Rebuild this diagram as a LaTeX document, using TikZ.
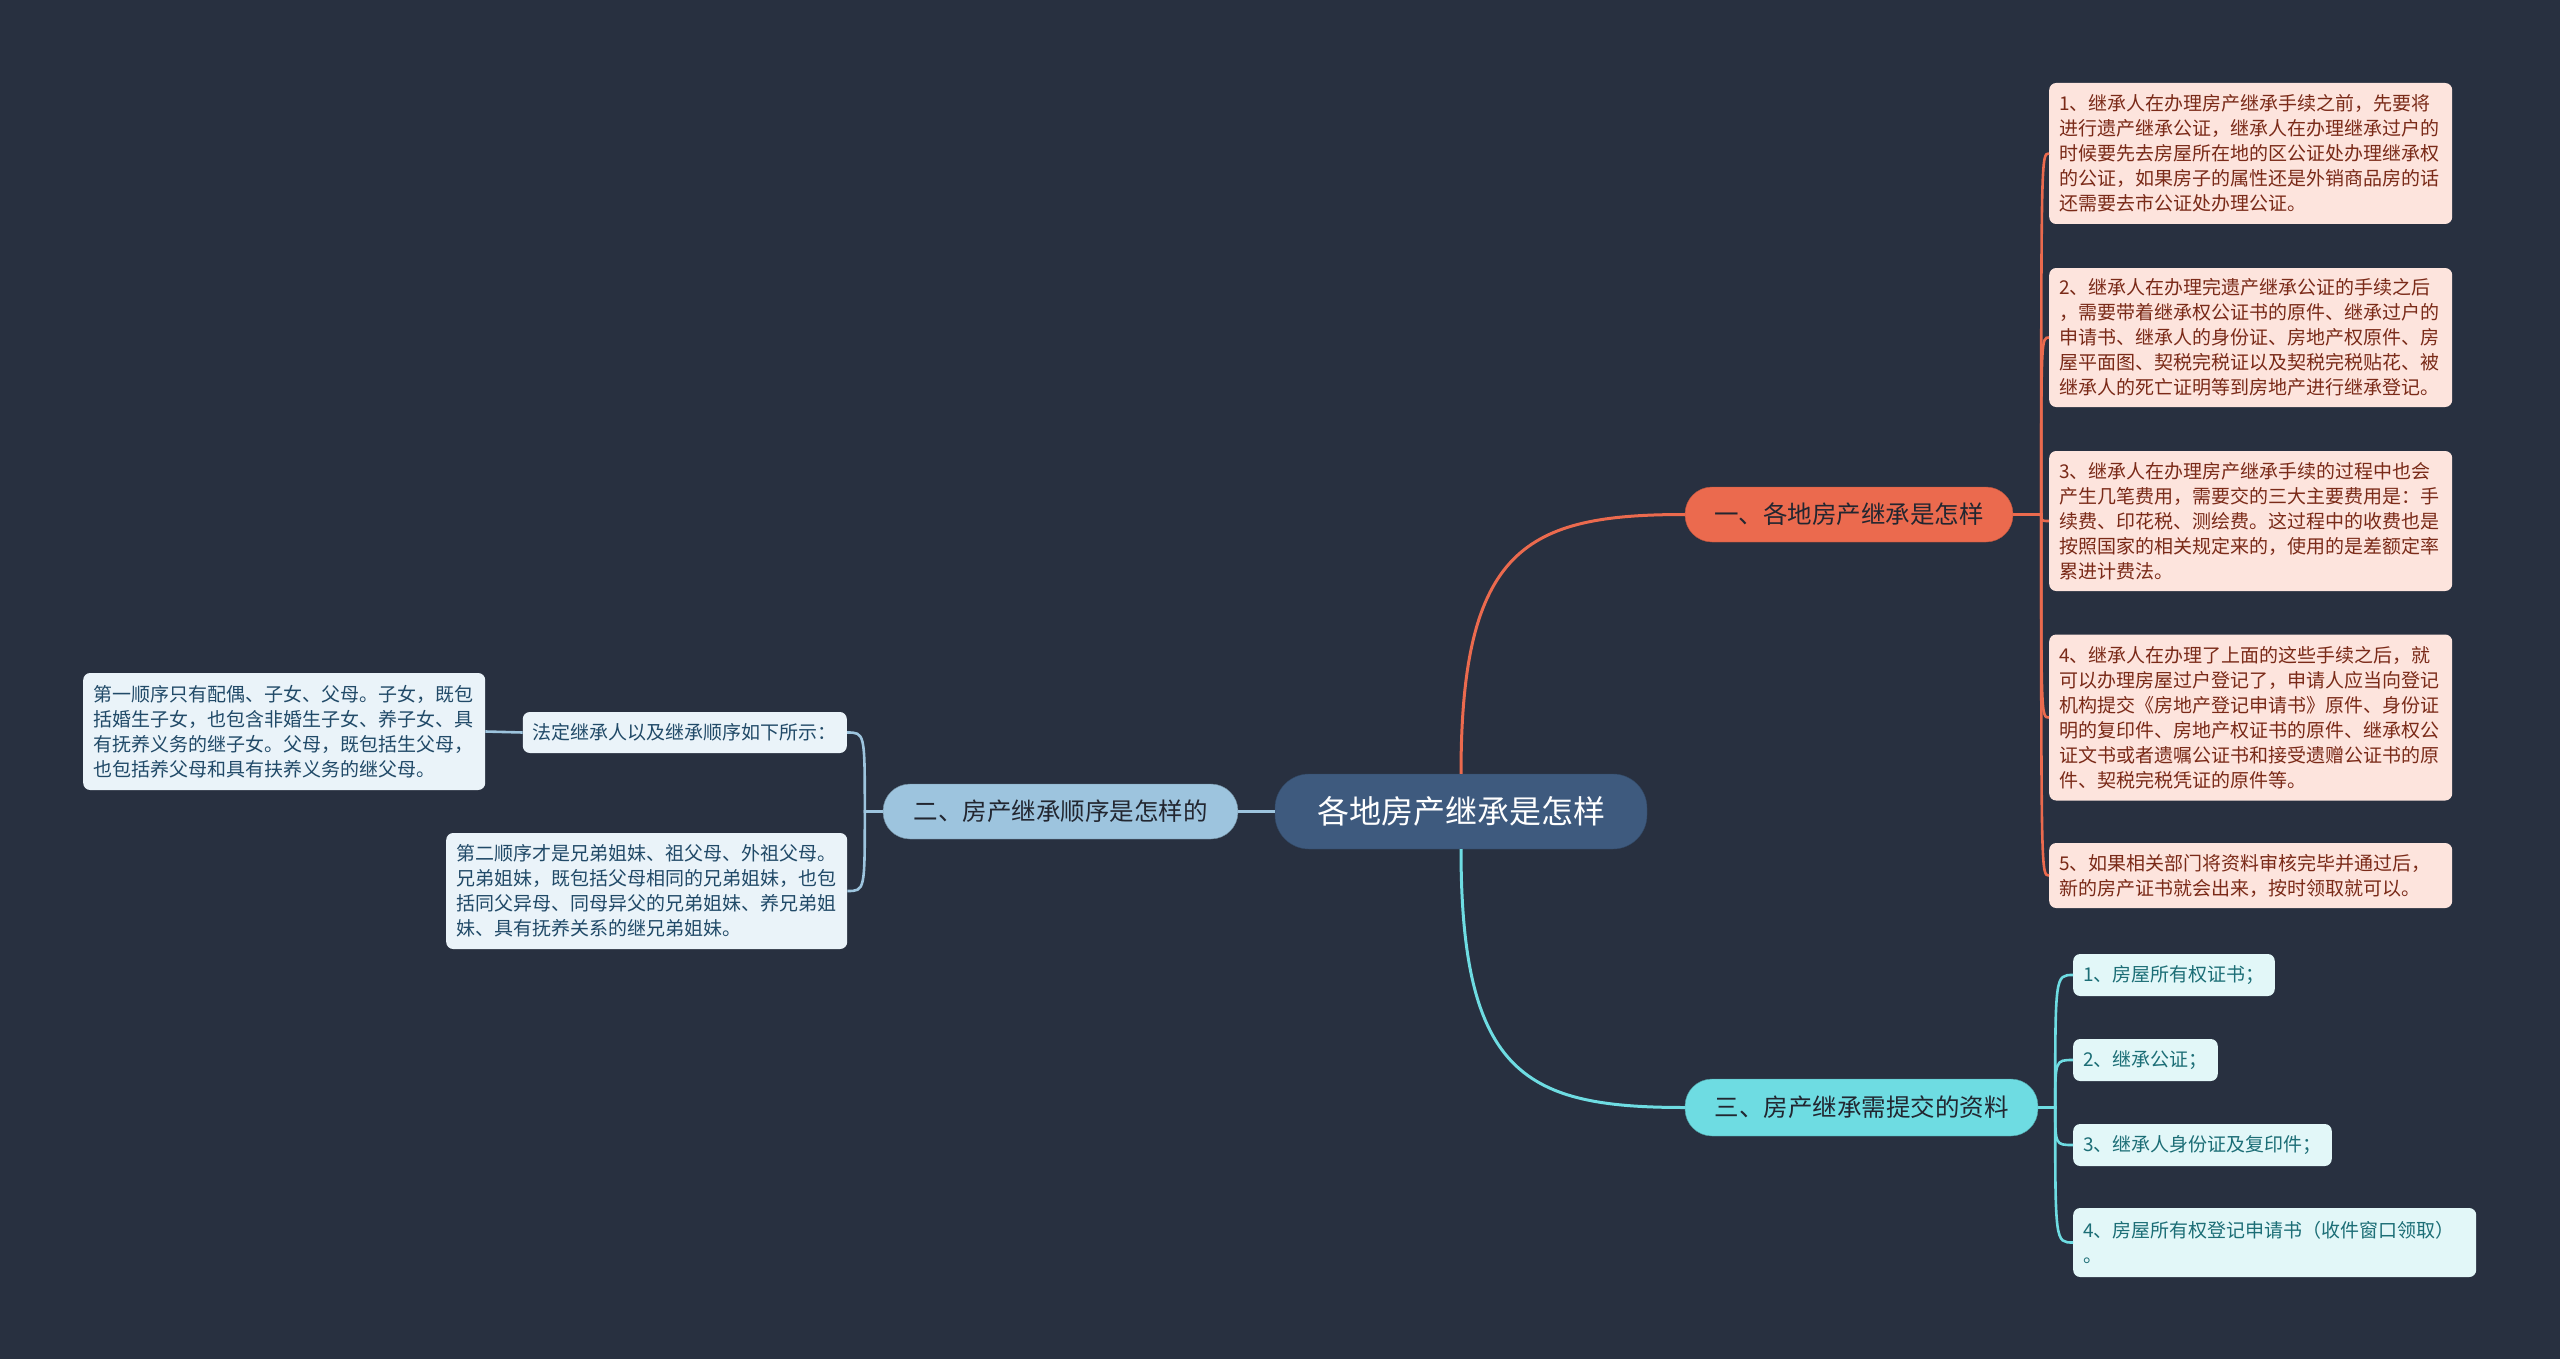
\documentclass[tikz,border=0pt]{standalone}
\usepackage{fontspec}
\setmainfont{Noto Sans CJK SC}
\usetikzlibrary{calc}
\definecolor{bg}{HTML}{283040}
\definecolor{cfill}{HTML}{3E5A7E}
\definecolor{ofill}{HTML}{EB6A4E}
\definecolor{cyfill}{HTML}{6EDCE2}
\definecolor{blfill}{HTML}{9DC4DE}
\definecolor{oleaf}{HTML}{FDE4DD}
\definecolor{otext}{HTML}{7A2A18}
\definecolor{cyleaf}{HTML}{E2F7F8}
\definecolor{cytext}{HTML}{1C6E76}
\definecolor{blleaf}{HTML}{EAF3F9}
\definecolor{bltext}{HTML}{214A68}
\definecolor{darktext}{HTML}{222630}
\begin{document}
\begin{tikzpicture}[x=1pt,y=-1pt,
  leafbase/.style={rounded corners=7pt, inner xsep=10pt, inner ysep=0pt, align=left,
    font=\fontsize{19}{25}\selectfont},
  oleafbox/.style={leafbase, fill=oleaf, text=otext, text width=383pt, anchor=west},
  cyleafbox/.style={leafbase, fill=cyleaf, text=cytext, anchor=west, minimum height=42pt},
  blleafbox/.style={leafbase, fill=blleaf, text=bltext},
  branchbox/.style={rounded corners=27pt, minimum height=55pt, inner sep=0pt,
    font=\fontsize{24.5}{30}\selectfont, text=darktext},
  oline/.style={draw=ofill, line width=2.6pt},
  cyline/.style={draw=cyfill, line width=2.6pt},
  blline/.style={draw=blfill, line width=2.6pt}
]
\fill[bg] (0,0) rectangle (2560,1359);
\useasboundingbox (0,0) rectangle (2560,1359);

% central
\node[fill=cfill, draw=cfill!80!black, rounded corners=34pt, minimum width=372pt, minimum height=75pt,
  inner sep=0pt, text=white, font=\fontsize{32}{38}\selectfont] (c) at (1461,811.5) {各地房产继承是怎样};

% branches
\node[branchbox, fill=ofill, draw=ofill!80!black, minimum width=328pt] (b1) at (1849,514.5) {一、各地房产继承是怎样};
\node[branchbox, fill=blfill, draw=blfill!70!black, minimum width=355pt] (b2) at (1060.5,811.5) {二、房产继承顺序是怎样的};
\node[branchbox, fill=cyfill, draw=cyfill!70!black, minimum width=353pt, minimum height=57pt] (b3) at (1861.5,1107.5) {三、房产继承需提交的资料};

% orange leaves
\node[oleafbox, minimum height=141pt] (o1) at (2049,153.5) {1、继承人在办理房产继承手续之前，先要将\\进行遗产继承公证，继承人在办理继承过户的\\时候要先去房屋所在地的区公证处办理继承权\\的公证，如果房子的属性还是外销商品房的话\\还需要去市公证处办理公证。};
\node[oleafbox, minimum height=139pt] (o2) at (2049,337.5) {2、继承人在办理完遗产继承公证的手续之后\\，需要带着继承权公证书的原件、继承过户的\\申请书、继承人的身份证、房地产权原件、房\\屋平面图、契税完税证以及契税完税贴花、被\\继承人的死亡证明等到房地产进行继承登记。};
\node[oleafbox, minimum height=140pt] (o3) at (2049,521) {3、继承人在办理房产继承手续的过程中也会\\产生几笔费用，需要交的三大主要费用是：手\\续费、印花税、测绘费。这过程中的收费也是\\按照国家的相关规定来的，使用的是差额定率\\累进计费法。};
\node[oleafbox, minimum height=166pt] (o4) at (2049,717.5) {4、继承人在办理了上面的这些手续之后，就\\可以办理房屋过户登记了，申请人应当向登记\\机构提交《房地产登记申请书》原件、身份证\\明的复印件、房地产权证书的原件、继承权公\\证文书或者遗嘱公证书和接受遗赠公证书的原\\件、契税完税凭证的原件等。};
\node[oleafbox, minimum height=65pt] (o5) at (2049,875.5) {5、如果相关部门将资料审核完毕并通过后，\\新的房产证书就会出来，按时领取就可以。};

% cyan leaves
\node[cyleafbox] (y1) at (2073,975) {1、房屋所有权证书；};
\node[cyleafbox] (y2) at (2073,1060) {2、继承公证；};
\node[cyleafbox] (y3) at (2073,1145) {3、继承人身份证及复印件；};
\node[cyleafbox, text width=383pt, minimum height=69pt] (y4) at (2073,1242.5) {4、房屋所有权登记申请书（收件窗口领取）\\。};

% blue leaves
\node[blleafbox, minimum height=41pt, anchor=east] (fd) at (847,732.5) {法定继承人以及继承顺序如下所示：};
\node[blleafbox, text width=382pt, minimum height=117pt, anchor=west] (la) at (83,731.5) {第一顺序只有配偶、子女、父母。子女，既包\\括婚生子女，也包含非婚生子女、养子女、具\\有抚养义务的继子女。父母，既包括生父母，\\也包括养父母和具有扶养义务的继父母。};
\node[blleafbox, text width=381pt, minimum height=116pt, anchor=west] (lb) at (446,891) {第二顺序才是兄弟姐妹、祖父母、外祖父母。\\兄弟姐妹，既包括父母相同的兄弟姐妹，也包\\括同父异母、同母异父的兄弟姐妹、养兄弟姐\\妹、具有抚养关系的继兄弟姐妹。};

% connectors: central to branches
\draw[blline, line width=3pt] (c.west) -- (b2.east);
\draw[oline, line width=3pt] (c.north) .. controls ($(c.north)+(0,-227)$) and ($(b1.west)+(-158,0)$) .. (b1.west);
\draw[cyline, line width=3pt] (c.south) .. controls ($(c.south)+(0,227)$) and ($(b3.west)+(-158,0)$) .. (b3.west);

% orange spine
\coordinate (os) at ($(b1.east)+(28,0)$);
\foreach \n in {o1,o2,o3,o4,o5}
  \draw[oline] (b1.east) -- (os) .. controls (os |- \n.west) .. (\n.west);

% cyan spine
\coordinate (cs) at ($(b3.east)+(17,0)$);
\foreach \n in {y1,y2,y3,y4}
  \draw[cyline] (b3.east) -- (cs) .. controls (cs |- \n.west) .. (\n.west);

% blue spine
\coordinate (bs) at ($(b2.west)+(-18,0)$);
\foreach \n in {fd,lb}
  \draw[blline] (b2.west) -- (bs) .. controls (bs |- \n.east) .. (\n.east);
\draw[blline] (fd.west) -- (la.east);
\end{tikzpicture}
\end{document}
